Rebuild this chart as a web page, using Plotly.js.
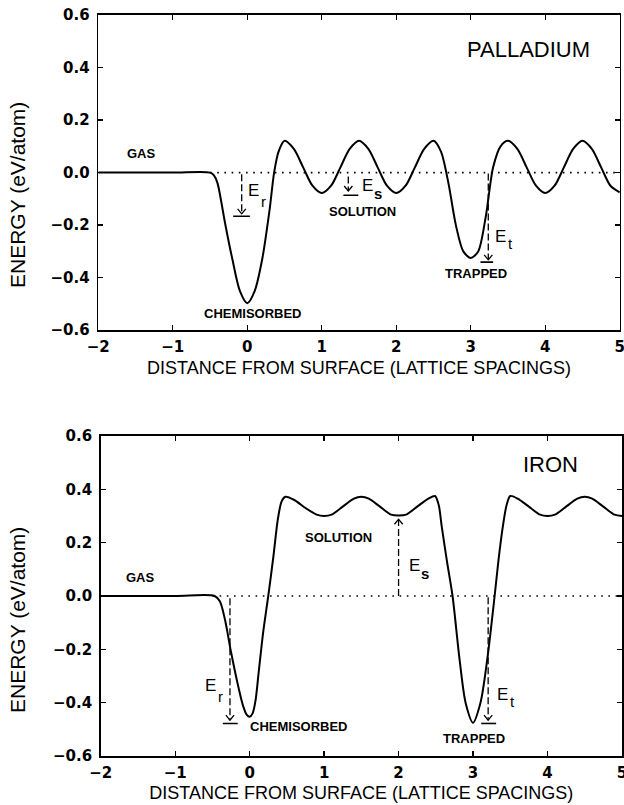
<!DOCTYPE html>
<html><head><meta charset="utf-8">
<script src="https://cdn.plot.ly/plotly-3.0.1.min.js"></script>
<style>html,body{margin:0;padding:0;background:#fff}</style>
</head><body><div id="chart" style="width:624px;height:805px"></div>
<script>
// ---- data ----
const xTickVals = [-2, -1, 0, 1, 2, 3, 4, 5];
const yTickVals = [-0.6, -0.4, -0.2, 0.0, 0.2, 0.4, 0.6];

// Palladium potential energy curve
const pdX = [-2, -1, -0.5, -0.45, -0.4, -0.35, -0.3, -0.2, -0.1, 0, 0.1, 0.2, 0.3, 0.36, 0.42, 0.5,
  0.625, 0.75, 0.875, 1.0, 1.125, 1.25, 1.375, 1.5, 1.625, 1.75, 1.875, 2.0, 2.125, 2.25, 2.375, 2.5,
  2.6, 2.7, 2.8, 2.9, 3.0, 3.1, 3.2, 3.3, 3.4, 3.5,
  3.625, 3.75, 3.875, 4.0, 4.125, 4.25, 4.375, 4.5, 4.625, 4.75, 4.875, 5.0];
const pdY = [0, 0, 0, -0.01, -0.04, -0.11, -0.19, -0.33, -0.45, -0.497, -0.45, -0.33, -0.14, 0.0, 0.08, 0.121,
  0.09, 0.02, -0.05, -0.078, -0.05, 0.02, 0.09, 0.121, 0.09, 0.02, -0.05, -0.078, -0.05, 0.02, 0.09, 0.121,
  0.08, -0.04, -0.2, -0.3, -0.325, -0.3, -0.17, 0.02, 0.1, 0.121,
  0.09, 0.02, -0.05, -0.078, -0.05, 0.02, 0.09, 0.121, 0.09, 0.02, -0.05, -0.075];

// Iron potential energy curve
const feX = [-2, -1, -0.47, -0.4, -0.33, -0.25, -0.16, -0.09, -0.04, 0, 0.04, 0.08, 0.12, 0.18, 0.25, 0.32, 0.38, 0.43, 0.48,
  0.6, 0.75, 0.9, 1.0, 1.1, 1.25, 1.4, 1.5, 1.6, 1.75, 1.9, 2.0, 2.1, 2.25, 2.4, 2.49,
  2.54, 2.58, 2.65, 2.725, 2.82, 2.9, 3.0, 3.1, 3.19, 3.29, 3.34, 3.4, 3.45, 3.5,
  3.6, 3.75, 3.9, 4.0, 4.1, 4.25, 4.4, 4.5, 4.6, 4.75, 4.9, 5.0];
const feY = [0, 0, 0, -0.02, -0.09, -0.21, -0.33, -0.41, -0.445, -0.453, -0.44, -0.39, -0.29, -0.14, 0.0, 0.15, 0.29, 0.355, 0.372,
  0.36, 0.33, 0.305, 0.30, 0.305, 0.335, 0.365, 0.372, 0.365, 0.335, 0.305, 0.302, 0.305, 0.335, 0.365, 0.375,
  0.34, 0.26, 0.13, 0.0, -0.24, -0.40, -0.475, -0.40, -0.24, 0.0, 0.13, 0.26, 0.34, 0.375,
  0.365, 0.335, 0.305, 0.30, 0.305, 0.335, 0.365, 0.372, 0.365, 0.335, 0.305, 0.30];

// reference (gas) energy level
const refX = [-0.5, 5];
const refY = [0, 0];

// ---- styling ----
const tickFont = {family: 'DejaVu Sans', size: 15, color: '#000', weight: 'bold'};
const titleFont = {family: 'Liberation Sans, Arial, sans-serif', size: 18, color: '#000'};
const yTitleFont = {family: 'Liberation Sans, Arial, sans-serif', size: 21, color: '#000'};
const lblFont = {family: 'Liberation Sans, Arial, sans-serif', size: 13, color: '#000', weight: 'bold'};
const eFont = {family: 'Liberation Sans, Arial, sans-serif', size: 17, color: '#000'};
const subFont = {family: 'Liberation Sans, Arial, sans-serif', size: 15, color: '#000'};
const subBold = {family: 'Liberation Sans, Arial, sans-serif', size: 15, color: '#000', weight: 'bold'};
const bigFont = {family: 'Liberation Sans, Arial, sans-serif', size: 22, color: '#000'};

function axisX(domain, anchor) {
  return {domain: domain, anchor: anchor, range: [-2, 5.0005], tickvals: xTickVals,
    ticks: 'inside', ticklen: 5, tickwidth: 1.3, tickcolor: '#000',
    showline: true, linewidth: 1.6, linecolor: '#000', mirror: 'ticks',
    showgrid: false, zeroline: false, tickfont: tickFont, ticklabelstandoff: 2, ticklabeloverflow: 'allow',
    title: {text: 'DISTANCE FROM SURFACE (LATTICE SPACINGS)', font: titleFont, standoff: 6}};
}
function axisY(domain, anchor) {
  return {domain: domain, anchor: anchor, range: [-0.6, 0.6], tickvals: yTickVals, tickformat: '.1f',
    ticks: 'inside', ticklen: 5, tickwidth: 1.3, tickcolor: '#000',
    showline: true, linewidth: 1.6, linecolor: '#000', mirror: 'ticks',
    showgrid: false, zeroline: false, tickfont: tickFont, ticklabelstandoff: 4};
}

const curve = (x, y, xa, ya) => ({x: x, y: y, xaxis: xa, yaxis: ya, type: 'scatter', mode: 'lines',
  line: {color: '#000', width: 2, shape: 'spline', smoothing: 0.8}, hoverinfo: 'skip', showlegend: false});
const dotted = (xa, ya) => ({x: refX, y: refY, xaxis: xa, yaxis: ya, type: 'scatter', mode: 'lines',
  line: {color: '#000', width: 1.6, dash: '1.6px,5.6px'}, hoverinfo: 'skip', showlegend: false});

const data = [dotted('x', 'y'), curve(pdX, pdY, 'x', 'y'), dotted('x2', 'y2'), curve(feX, feY, 'x2', 'y2')];

// arrows: dashed shaft, open chevron head, optional bar
function arrow(xr, yr, x, yFrom, yTip, bar, dx, dy) {
  const dir = yTip < yFrom ? 1 : -1;
  const s = [];
  s.push({type: 'line', xref: xr, yref: yr, x0: x, x1: x, y0: yFrom, y1: yTip,
    line: {color: '#000', width: 1.3, dash: '7px,3px'}});
  s.push({type: 'path', xref: xr, yref: yr,
    path: `M${x - dx},${yTip + dir * dy} L${x},${yTip} L${x + dx},${yTip + dir * dy}`,
    line: {color: '#000', width: 1.3}});
  if (bar) s.push({type: 'line', xref: xr, yref: yr, x0: bar[0], x1: bar[1], y0: bar[2], y1: bar[2],
    line: {color: '#000', width: 1.6}});
  return s;
}
const shapes = [].concat(
  arrow('x', 'y', -0.075, -0.006, -0.157, [-0.19, 0.035, -0.166], 0.055, 0.019),
  arrow('x', 'y', 1.356, -0.015, -0.07, [1.29, 1.49, -0.086], 0.055, 0.019),
  arrow('x', 'y', 3.235, -0.003, -0.332, [3.13, 3.30, -0.341], 0.055, 0.019),
  arrow('x2', 'y2', -0.264, -0.008, -0.466, [-0.36, -0.16, -0.478], 0.055, 0.019),
  arrow('x2', 'y2', 2.0, 0.0, 0.288, null, 0.055, 0.019),
  arrow('x2', 'y2', 3.203, -0.005, -0.466, [3.11, 3.31, -0.478], 0.055, 0.019)
);

const ann = (xr, yr, x, y, text, font, xanchor) => ({xref: xr, yref: yr, x: x, y: y, text: text, font: font,
  showarrow: false, xanchor: xanchor || 'center', yanchor: 'middle'});
// energy symbol "E" with a subscript drawn just to its right
function eLabel(xr, yr, x, y, ySub, sub, subF) {
  return [
    {xref: xr, yref: yr, x: x, y: y, text: 'E', font: eFont, showarrow: false,
      xanchor: 'left', yanchor: 'middle', borderpad: 0},
    {xref: xr, yref: yr, x: x, y: ySub, xshift: 12.5, text: sub, font: subF, showarrow: false,
      xanchor: 'left', yanchor: 'middle', borderpad: 0}
  ];
}
const annotations = [].concat(
  [ann('x', 'y', -1.418, 0.073, 'GAS', lblFont)],
  eLabel('x', 'y', 0.0, -0.068, -0.11, 'r', subFont),
  eLabel('x', 'y', 1.52, -0.048, -0.08, 's', subBold),
  [ann('x', 'y', 1.546, -0.149, 'SOLUTION', lblFont)],
  eLabel('x', 'y', 3.315, -0.245, -0.27, 't', subFont),
  [ann('x', 'y', 3.07, -0.384, 'TRAPPED', lblFont),
   ann('x', 'y', 0.08, -0.537, 'CHEMISORBED', lblFont),
   ann('x', 'y', 3.77, 0.467, 'PALLADIUM', bigFont),
   ann('x2', 'y2', -1.472, 0.07, 'GAS', lblFont),
   ann('x2', 'y2', 1.19, 0.219, 'SOLUTION', lblFont)],
  eLabel('x2', 'y2', 2.12, 0.116, 0.084, 's', subBold),
  eLabel('x2', 'y2', -0.61, -0.337, -0.378, 'r', subFont),
  [ann('x2', 'y2', 0.665, -0.49, 'CHEMISORBED', lblFont)],
  eLabel('x2', 'y2', 3.31, -0.37, -0.397, 't', subFont),
  [ann('x2', 'y2', 3.01, -0.534, 'TRAPPED', lblFont),
   ann('x2', 'y2', 4.04, 0.494, 'IRON', bigFont),
   // y-axis titles
   {xref: 'paper', yref: 'paper', x: 17 / 624, y: 1 - 195 / 805, text: 'ENERGY (eV/atom)', textangle: -90,
     font: yTitleFont, showarrow: false, xanchor: 'center', yanchor: 'middle'},
   {xref: 'paper', yref: 'paper', x: 17 / 624, y: 1 - 620 / 805, text: 'ENERGY (eV/atom)', textangle: -90,
     font: yTitleFont, showarrow: false, xanchor: 'center', yanchor: 'middle'}]
);

const layout = {
  width: 624, height: 805, margin: {l: 0, r: 0, t: 0, b: 0},
  paper_bgcolor: '#fff', plot_bgcolor: '#fff', showlegend: false,
  xaxis: axisX([98.3 / 624, 619.8 / 624], 'y'),
  yaxis: axisY([1 - 330.2 / 805, 1 - 15 / 805], 'x'),
  xaxis2: axisX([100.7 / 624, 622 / 624], 'y2'),
  yaxis2: axisY([1 - 756 / 805, 1 - 436 / 805], 'x2'),
  shapes: shapes, annotations: annotations
};
Plotly.newPlot('chart', data, layout, {staticPlot: true, displayModeBar: false});
</script></body></html>
